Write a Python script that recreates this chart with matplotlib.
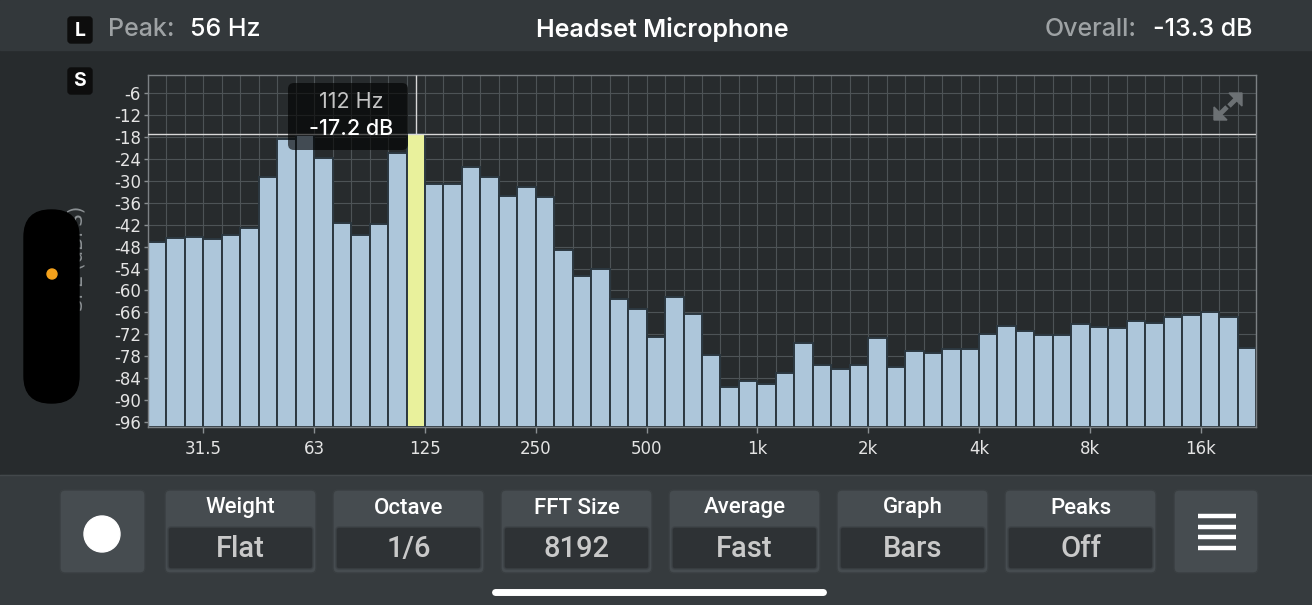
import numpy as np
import matplotlib
matplotlib.use("Agg")
import matplotlib.pyplot as plt
from matplotlib.patches import FancyBboxPatch, Rectangle, Circle, Polygon
from matplotlib.ticker import NullFormatter

levels = [-46.8, -45.7, -45.5, -46.0, -44.8, -42.9, -29.0, -18.6, -17.5, -23.6,
          -41.4, -44.8, -41.7, -22.4, -17.2, -30.9, -30.9, -26.2, -29.0, -34.1,
          -31.8, -34.3, -48.8, -56.0, -54.1, -62.3, -65.2, -72.7, -61.7, -66.5,
          -77.8, -86.4, -84.7, -85.7, -82.5, -74.5, -80.3, -81.4, -80.5, -73.1,
          -81.1, -76.5, -77.2, -76.1, -76.1, -71.8, -69.7, -71.1, -72.2, -72.2,
          -69.2, -69.9, -70.3, -68.5, -69.0, -67.2, -66.8, -65.9, -67.4, -75.7]
sel_band = 14
sel_hz = "112 Hz"
sel_db = -17.2

xtick_labels = ["31.5", "63", "125", "250", "500", "1k", "2k", "4k", "8k", "16k"]
yticks = list(range(-6, -97, -6))

peak_hz = "56 Hz"
overall = "-13.3 dB"
title = "Headset Microphone"
btn_names = ["Weight", "Octave", "FFT Size", "Average", "Graph", "Peaks"]
btn_values = ["Flat", "1/6", "8192", "Fast", "Bars", "Off"]

# Bandgrenzen: 1/6 Oktave, bezogen auf 31.5 Hz
edges = 31.5 * 2 ** ((np.arange(len(levels) + 1) - 3) / 6)
xtick_pos = 31.5 * 2 ** np.arange(len(xtick_labels))
ymin, ymax = -97.4, -1.0

W, H = 1312, 605
BG = "#272b2d"
HEAD = "#33383b"
PANEL = "#363b3e"
BAR = "#adc6da"
SEL = "#e9f19c"
GRID = "#4d5356"

sans = ["Inter", "Roboto", "DejaVu Sans"]
btnfont = ["Roboto", "DejaVu Sans"]

fig = plt.figure(figsize=(W / 100, H / 100), dpi=100)
fig.patch.set_facecolor(BG)

# Hintergrundflächen
bg = fig.add_axes([0, 0, 1, 1], zorder=0)
bg.set_xlim(0, W)
bg.set_ylim(H, 0)
bg.axis("off")
bg.add_patch(Rectangle((0, 0), W, 50, color=HEAD))
bg.add_patch(Rectangle((0, 475), W, H - 475, color=PANEL))
bg.plot([0, W], [475, 475], color="#43484b", lw=1)

# Spektrum
ax = fig.add_axes([148 / W, 1 - 427 / H, 1108 / W, 352 / H], zorder=1)
ax.set_facecolor(BG)
ax.set_xscale("log")
ax.set_xlim(edges[0], edges[-1])
ax.set_ylim(ymin, ymax)
vals = np.array(levels)
colors = [BAR] * len(levels)
colors[sel_band] = SEL
ax.bar(edges[:-1], vals - ymin, width=np.diff(edges), bottom=ymin, align="edge",
       color=colors, edgecolor="#2c3840", linewidth=1.4, zorder=2)

ax.set_xticks(edges, minor=True)
ax.xaxis.set_minor_formatter(NullFormatter())
ax.set_xticks(xtick_pos, xtick_labels)
ax.set_yticks(yticks, [str(v) for v in yticks])
ax.set_axisbelow(True)
ax.grid(which="both", axis="x", color=GRID, lw=0.8)
ax.grid(which="major", axis="y", color=GRID, lw=0.8)
ax.tick_params(which="minor", length=0)
ax.tick_params(which="major", colors="#8a8f92", labelcolor="#e4e4e4", labelsize=12,
               length=4, width=1)
ax.tick_params(axis="y", pad=2, length=3)
ax.tick_params(axis="x", pad=5)
for s in ax.spines.values():
    s.set_color("#7c8184")
    s.set_linewidth(1)

# Cursor
xc = np.sqrt(edges[sel_band] * edges[sel_band + 1])
ax.axhline(sel_db, color="#d8d8d8", lw=1, zorder=3)
ax.vlines(xc, sel_db, ymax, color="#d8d8d8", lw=1, zorder=3)

# Overlay in Pixelkoordinaten
ov = fig.add_axes([0, 0, 1, 1], zorder=2)
ov.set_xlim(0, W)
ov.set_ylim(H, 0)
ov.axis("off")
ov.patch.set_alpha(0)

# Kopfzeile
for lab, y0 in [("L", 17), ("S", 68)]:
    ov.add_patch(FancyBboxPatch((68, y0), 24, 26, boxstyle="round,pad=0,rounding_size=3",
                                color="#0d0d0d"))
    ov.text(80, y0 + 13.5, lab, color="white", fontsize=14, fontweight="bold",
            ha="center", va="center", family=sans)
ov.text(108, 30, "Peak:", color="#9ea2a4", fontsize=18, va="center", family=sans,
        fontweight="medium")
ov.text(190, 30, peak_hz, color="white", fontsize=18, va="center", family=sans,
        fontweight="medium")
ov.text(662, 30, title, color="white", fontsize=18, va="center", ha="center",
        fontweight="semibold", family=sans)
ov.text(1137, 30, "Overall:", color="#9ea2a4", fontsize=18, va="center", ha="right",
        family=sans, fontweight="medium")
ov.text(1203, 30, overall, color="white", fontsize=18, va="center", ha="center",
        family=sans, fontweight="medium")

# Achsentitel (halb verdeckt)
ov.text(77, 258, "SPL (dBFS)", color="#8c9194", fontsize=14, rotation=90,
        ha="center", va="center", zorder=0.5)
ov.add_patch(FancyBboxPatch((24, 210), 55, 193, boxstyle="round,pad=0,rounding_size=27",
                            color="black", zorder=2))
ov.add_patch(Circle((52, 274), 5, color="#f5a21c", zorder=3))

# Tooltip
ov.add_patch(FancyBboxPatch((288, 83), 120, 67, boxstyle="round,pad=0,rounding_size=6",
                            color="black", alpha=0.62, lw=0))
ov.text(351, 102, sel_hz, color="#c4c4c4", fontsize=15.5, ha="center", va="center",
        family=sans)
ov.text(351, 129, f"{sel_db:.1f} dB", color="white", fontsize=15.5, ha="center",
        va="center", family=sans, fontweight="medium")

# Vergrößern-Symbol
ic = "#6c7174"
ov.add_patch(Polygon([(1242, 93), (1242, 106), (1229, 93)], color=ic))
ov.plot([1237, 1229], [98, 106], color=ic, lw=3.5, solid_capstyle="butt")
ov.add_patch(Polygon([(1214, 120), (1214, 107), (1227, 120)], color=ic))
ov.plot([1219, 1227], [115, 107], color=ic, lw=3.5, solid_capstyle="butt")

# Knöpfe unten
def button(x, w):
    ov.add_patch(FancyBboxPatch((x, 490), w, 83, boxstyle="round,pad=0,rounding_size=5",
                                facecolor="#464c50", edgecolor="#3a3f42", lw=1))

button(60, 85)
ov.add_patch(Circle((102, 534), 18, color="white"))
for i, (name, val) in enumerate(zip(btn_names, btn_values)):
    x = 165 + 168 * i
    button(x, 151)
    ov.add_patch(FancyBboxPatch((x + 3, 527), 145, 42, boxstyle="round,pad=0,rounding_size=3",
                                facecolor="#2e3235", edgecolor="#3d4246", lw=1))
    ov.text(x + 75.5, 508, name, color="white", fontsize=16, ha="center", va="center",
            family=btnfont, fontweight="medium")
    ov.text(x + 75.5, 549, val, color="#c9c9c9", fontsize=21, ha="center", va="center",
            family=btnfont, fontweight="medium")
button(1174, 84)
for y in [516, 526.5, 537, 547.5]:
    ov.plot([1198, 1236], [y, y], color="white", lw=3.2, solid_capstyle="butt")

# Home-Indikator
ov.plot([495, 823], [592, 592], color="white", lw=5, solid_capstyle="round")

fig.savefig("out.png", dpi=100, facecolor=fig.get_facecolor())
